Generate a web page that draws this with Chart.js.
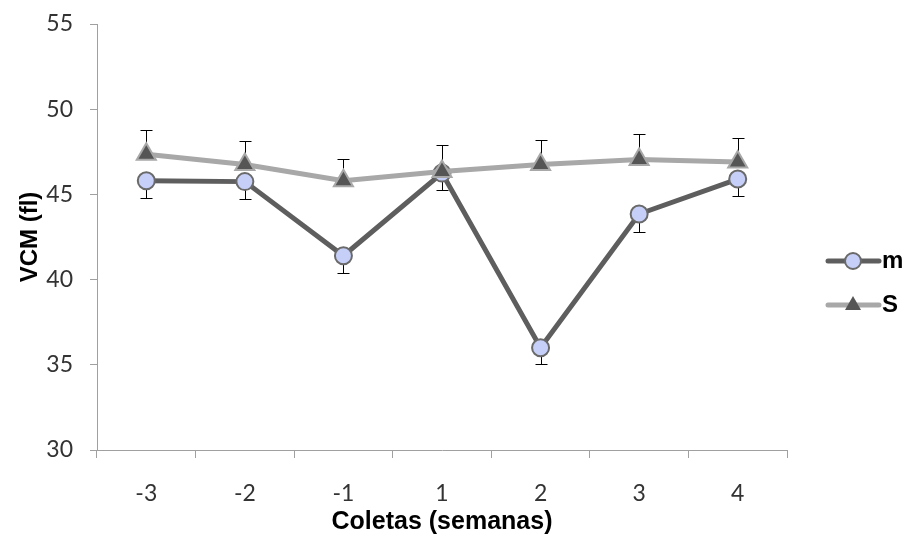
<!DOCTYPE html>
<html>
<head>
<meta charset="utf-8">
<script src="https://cdn.jsdelivr.net/npm/chart.js@4.4.0/dist/chart.umd.min.js"></script>
<style>
  body { margin: 0; background: #fff; }
  #wrap { width: 909px; height: 538px; }
</style>
</head>
<body>
<div id="wrap"><canvas id="lineChart"></canvas></div>
<script>
// dados
const coletas = ["-3", "-2", "-1", "1", "2", "3", "4"];
const mValores = [45.8, 45.75, 41.4, 46.25, 36.0, 43.85, 45.9];
const mErro = [1.0, 1.0, 1.0, 1.0, 0.95, 1.05, 1.0];
const sValores = [47.35, 46.75, 45.8, 46.35, 46.75, 47.05, 46.9];
const sErro = [1.45, 1.4, 1.3, 1.55, 1.45, 1.5, 1.4];
const yTicks = [30, 35, 40, 45, 50, 55];

const corM = "#5e5e5e";
const corS = "#a8a8a8";

// barras de erro (m para baixo, S para cima)
const errorBars = {
  id: "errorBars",
  beforeDatasetsDraw(chart) {
    const ctx = chart.ctx;
    const y = chart.scales.y;
    const sets = [
      { idx: 0, vals: mValores, err: mErro, dir: -1 },
      { idx: 1, vals: sValores, err: sErro, dir: 1 },
    ];
    ctx.save();
    ctx.strokeStyle = "#000";
    ctx.lineWidth = 1;
    sets.forEach((s) => {
      const meta = chart.getDatasetMeta(s.idx);
      meta.data.forEach((pt, i) => {
        const y0 = y.getPixelForValue(s.vals[i]);
        const y1 = y.getPixelForValue(s.vals[i] + s.dir * s.err[i]);
        const x = Math.round(pt.x) + 0.5;
        ctx.beginPath();
        ctx.moveTo(x, y0);
        ctx.lineTo(x, Math.round(y1) + 0.5);
        ctx.moveTo(x - 6, Math.round(y1) + 0.5);
        ctx.lineTo(x + 6, Math.round(y1) + 0.5);
        ctx.stroke();
      });
    });
    ctx.restore();
  },
};

// legenda estilo Excel (linha + marcador)
const legendaDireita = {
  id: "legendaDireita",
  afterDraw(chart) {
    const ctx = chart.ctx;
    const itens = [
      { label: "m", cor: corM, y: 261, marker: "circle" },
      { label: "S", cor: corS, y: 305, marker: "triangle" },
    ];
    ctx.save();
    itens.forEach((it) => {
      ctx.strokeStyle = it.cor;
      ctx.lineWidth = 5;
      ctx.lineCap = "round";
      ctx.beginPath();
      ctx.moveTo(828, it.y);
      ctx.lineTo(879, it.y);
      ctx.stroke();
      ctx.lineWidth = 2;
      if (it.marker === "circle") {
        ctx.fillStyle = "#c6cff7";
        ctx.strokeStyle = "#6a6a6a";
        ctx.beginPath();
        ctx.arc(853, it.y, 8, 0, Math.PI * 2);
        ctx.fill();
        ctx.stroke();
      } else {
        ctx.fillStyle = "#555";
        ctx.beginPath();
        ctx.moveTo(853, it.y - 9);
        ctx.lineTo(861, it.y + 5);
        ctx.lineTo(845, it.y + 5);
        ctx.closePath();
        ctx.fill();
      }
      ctx.fillStyle = "#000";
      ctx.font = "bold 24px 'Liberation Sans', Arial, sans-serif";
      ctx.textBaseline = "middle";
      ctx.textAlign = "left";
      ctx.fillText(it.label, 882, it.y);
    });
    ctx.restore();
  },
};

const ctx = document.getElementById("lineChart").getContext("2d");

new Chart(ctx, {
  type: "line",
  data: {
    labels: coletas,
    datasets: [
      {
        label: "m",
        data: mValores,
        borderColor: corM,
        borderWidth: 5,
        pointStyle: "circle",
        pointRadius: 8.5,
        pointBorderWidth: 2,
        pointBackgroundColor: "#c6cff7",
        pointBorderColor: "#6a6a6a",
        tension: 0,
        order: 1,
      },
      {
        label: "S",
        data: sValores,
        borderColor: corS,
        borderWidth: 5,
        pointStyle: "triangle",
        pointRadius: 11,
        pointBorderWidth: 2,
        pointBackgroundColor: "#555555",
        pointBorderColor: "#a8a8a8",
        tension: 0,
        order: 0,
      },
    ],
  },
  options: {
    responsive: true,
    maintainAspectRatio: false,
    animation: false,
    layout: {
      padding: { top: 24, right: 122, left: 0, bottom: 0 },
    },
    plugins: {
      legend: { display: false },
      tooltip: { enabled: false },
    },
    scales: {
      x: {
        offset: true,
        grid: {
          offset: true,
          drawOnChartArea: false,
          tickLength: 8,
          color: "#a0a0a0",
        },
        border: { color: "#a0a0a0", width: 1 },
        ticks: {
          color: "#333",
          padding: 22,
          font: { family: "Lato, 'Open Sans', sans-serif", size: 23 },
        },
        title: {
          display: true,
          text: "Coletas (semanas)",
          color: "#000",
          padding: { top: 0, bottom: 1 },
          font: { family: "'Liberation Sans', Arial, sans-serif", size: 25, weight: "bold" },
        },
        afterFit(scale) {
          scale.height = 88;
        },
      },
      y: {
        min: 30,
        max: 55,
        afterBuildTicks(scale) {
          scale.ticks = yTicks.map((v) => ({ value: v }));
        },
        grid: {
          drawOnChartArea: false,
          tickLength: 7,
          color: "#a0a0a0",
        },
        border: { color: "#a0a0a0", width: 1 },
        ticks: {
          color: "#333",
          padding: 17,
          font: { family: "Lato, 'Open Sans', sans-serif", size: 23, lineHeight: 1 },
        },
        title: {
          display: true,
          text: "VCM (fl)",
          color: "#000",
          padding: { top: 16, bottom: 0 },
          font: { family: "'Liberation Sans', Arial, sans-serif", size: 24, weight: "bold" },
        },
        afterFit(scale) {
          scale.width = 97;
          scale.paddingTop = 0;
          scale.paddingBottom = 0;
        },
      },
    },
  },
  plugins: [errorBars, legendaDireita],
});
</script>
</body>
</html>
